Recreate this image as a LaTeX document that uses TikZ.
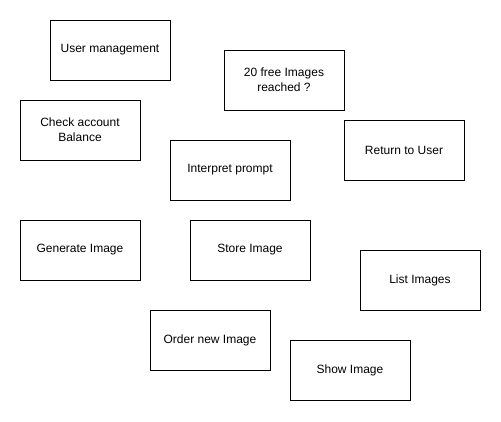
\documentclass[tikz,border=0pt]{standalone}
\usepackage{fontspec}
\setmainfont{Liberation Sans}
\usepackage{tikz}
\usetikzlibrary{positioning}
\tikzstyle{board} = [x = 1pt, y = -1pt]
\tikzstyle{taskBoxStyle} = [draw=black, fill=white, line width=1pt, minimum width=120pt, minimum height=60pt, align=center, font=\fontsize{12}{15}\selectfont, inner sep=0pt]
\newcommand{\taskBox}[4]{\node [taskBoxStyle] (#1) at (#2, #3) {#4};}

\begin{document}
\begin{tikzpicture}[board]
        \useasboundingbox (0,0) rectangle (501,421);
        \taskBox{userManagement}{110}{50}{User management}
        \taskBox{freeImages}{284}{80}{20 free Images\\reached ?}
        \taskBox{checkBalance}{80}{130}{Check account\\Balance}
        \taskBox{returnUser}{404}{150}{Return to User}
        \taskBox{interpretPrompt}{230}{170}{Interpret prompt}
        \taskBox{generateImage}{80}{250}{Generate Image}
        \taskBox{storeImage}{250}{250}{Store Image}
        \taskBox{listImages}{420}{280}{List Images}
        \taskBox{orderImage}{210}{340}{Order new Image}
        \taskBox{showImage}{350}{370}{Show Image}
      \end{tikzpicture}
\end{document}
